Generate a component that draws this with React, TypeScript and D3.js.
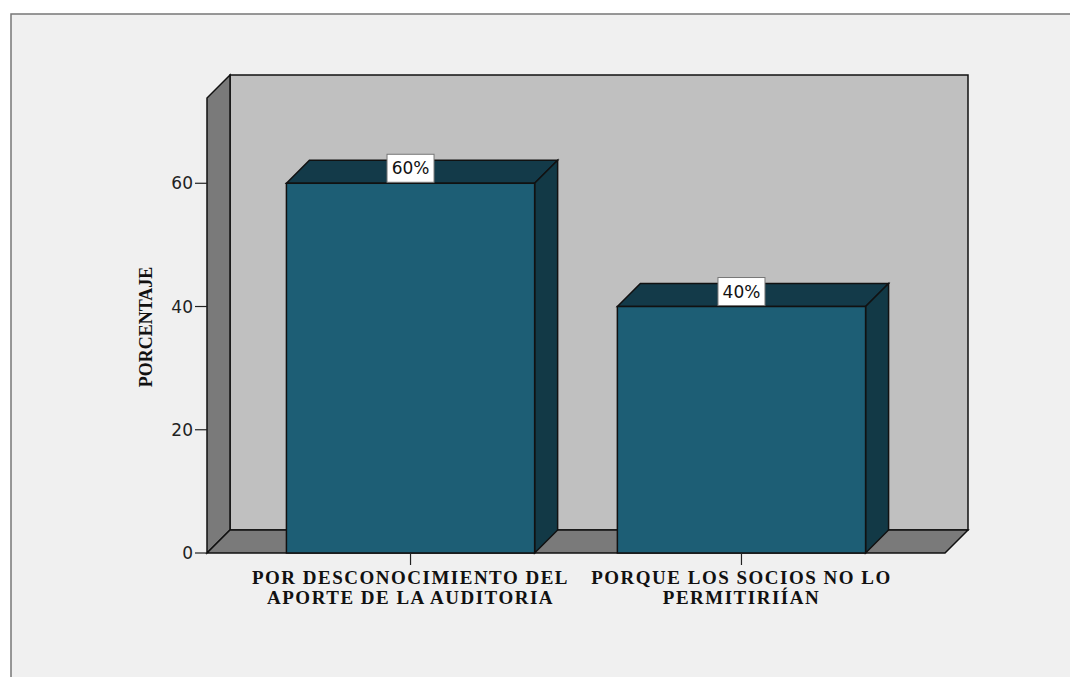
import React from "react";
import * as d3 from "d3";

const categories: string[] = ["POR DESCONOCIMIENTO DEL|APORTE DE LA AUDITORIA", "PORQUE LOS SOCIOS NO LO|PERMITIRIÍAN"];
const values: number[] = [60, 40];
const valueLabels: string[] = ["60%", "40%"];
const yTicks: number[] = [0, 20, 40, 60];
const yTitle = "PORCENTAJE";

const W = 1070;
const H = 677;
const X0 = 207, X1 = 945, Y0 = 553, Y1 = 98;
const D = 23;

export default function App() {
  const y = d3.scaleLinear().domain([0, 74]).range([Y0, Y1 - 1]);
  const x = d3.scaleBand<number>().domain(d3.range(categories.length)).range([X0, X1]).paddingInner(0.25).paddingOuter(0.24);
  const bw = x.bandwidth();
  const pts = (a: [number, number][]) => a.map((p) => p.join(",")).join(" ");
  const serif = "'Liberation Serif', 'Times New Roman', serif";
  const sans = "'DejaVu Sans', Verdana, sans-serif";
  return (
    <svg width={W} height={H} style={{ position: "fixed", left: 0, top: 0, background: "#fff" }}>
      <rect x={11} y={14} width={W} height={H} fill="#f0f0f0" stroke="#777" strokeWidth={1.5} />
      {/* back wall */}
      <rect x={X0 + D} y={Y1 - D} width={X1 - X0} height={Y0 - Y1} fill="#c0c0c0" stroke="#111" strokeWidth={1.5} />
      {/* left wall */}
      <polygon points={pts([[X0, Y0], [X0, Y1], [X0 + D, Y1 - D], [X0 + D, Y0 - D]])} fill="#7a7a7a" stroke="#111" strokeWidth={1.5} />
      {/* floor */}
      <polygon points={pts([[X0, Y0], [X1, Y0], [X1 + D, Y0 - D], [X0 + D, Y0 - D]])} fill="#7a7a7a" stroke="#111" strokeWidth={1.5} />
      {values.map((v, i) => {
        const bx = x(i)!;
        const top = y(v);
        return (
          <g key={i}>
            <polygon points={pts([[bx, top], [bx + D, top - D], [bx + bw + D, top - D], [bx + bw, top]])} fill="#133a49" stroke="#111" strokeWidth={1.5} />
            <polygon points={pts([[bx + bw, top], [bx + bw + D, top - D], [bx + bw + D, Y0 - D], [bx + bw, Y0]])} fill="#123946" stroke="#111" strokeWidth={1.5} />
            <rect x={bx} y={top} width={bw} height={Y0 - top} fill="#1d5e75" stroke="#111" strokeWidth={1.5} />
          </g>
        );
      })}
      {values.map((v, i) => {
        const cx = x(i)! + bw / 2;
        const top = y(v);
        return (
          <g key={"l" + i}>
            <rect x={cx - 23.5} y={top - 29} width={47} height={28} fill="#fff" stroke="#777" strokeWidth={1} />
            <text x={cx} y={top - 9} textAnchor="middle" fontFamily={sans} fontSize={17} fill="#111">{valueLabels[i]}</text>
          </g>
        );
      })}
      {yTicks.map((t) => (
        <g key={t}>
          <line x1={X0 - 12} x2={X0} y1={y(t)} y2={y(t)} stroke="#222" strokeWidth={1.2} />
          <text x={X0 - 14} y={y(t)} dy="0.36em" textAnchor="end" fontFamily={sans} fontSize={17} fill="#222">{t}</text>
        </g>
      ))}
      {categories.map((c, i) => {
        const cx = x(i)! + bw / 2;
        const lines = c.split("|");
        return (
          <g key={"c" + i}>
            <line x1={cx} x2={cx} y1={Y0} y2={Y0 + 12} stroke="#222" strokeWidth={1.2} />
            {lines.map((ln, j) => (
              <text key={j} x={cx} y={584 + j * 20} textAnchor="middle" fontFamily={serif} fontWeight="bold" fontSize={19} letterSpacing={1.5} fill="#111">{ln}</text>
            ))}
          </g>
        );
      })}
      <text transform="translate(152,327) rotate(-90)" textAnchor="middle" fontFamily={serif} fontWeight="bold" fontSize={18} fill="#111">{yTitle}</text>
    </svg>
  );
}
